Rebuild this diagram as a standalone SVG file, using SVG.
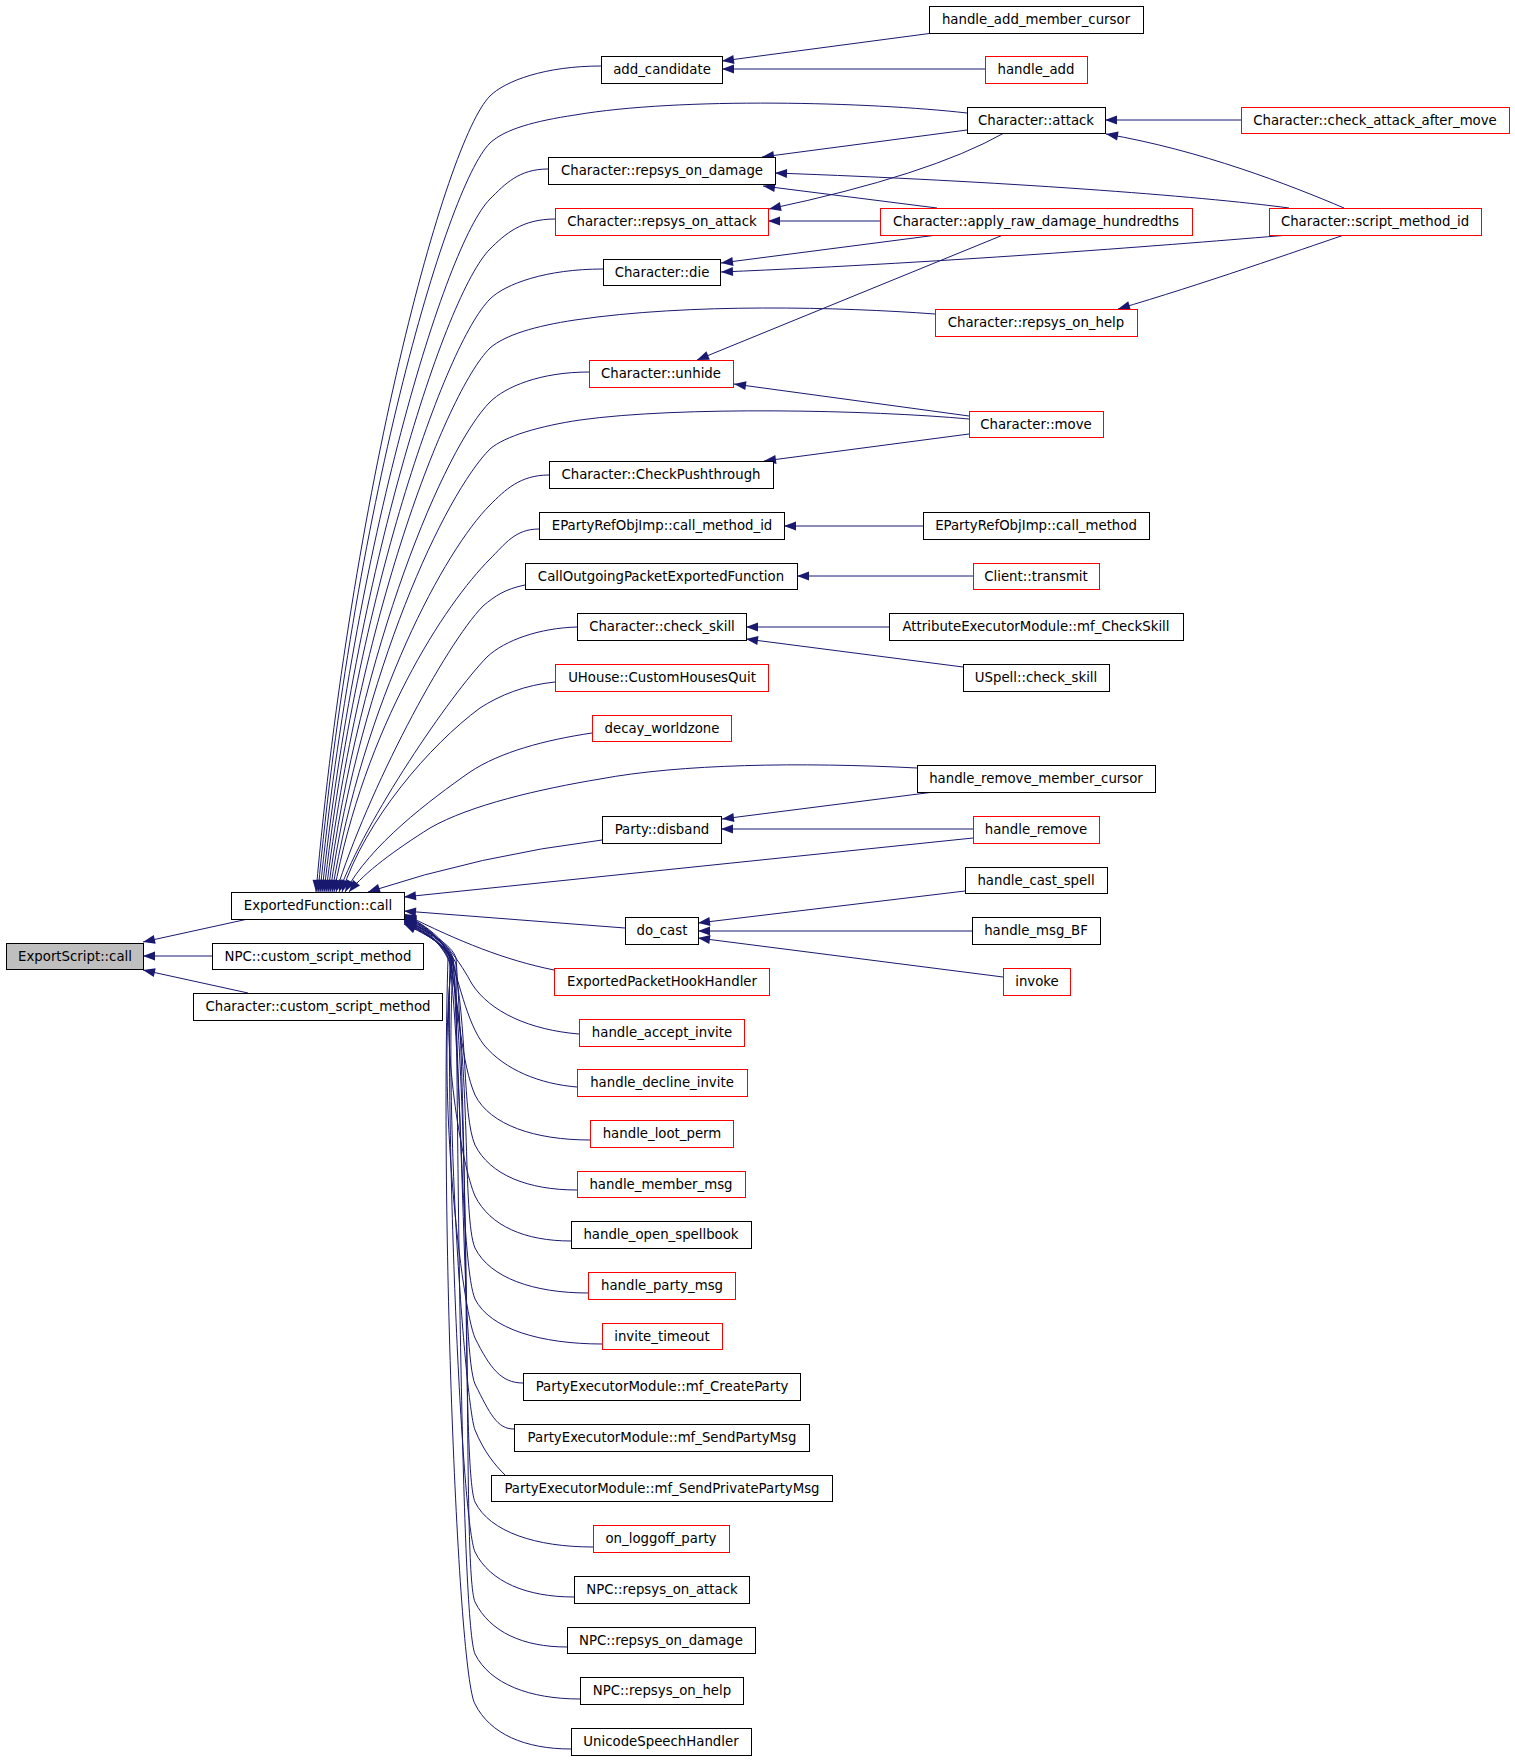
<svg xmlns="http://www.w3.org/2000/svg" width="1515" height="1760" viewBox="0 0 1515 1760">
<style>
.n rect{fill:#fff;stroke:#000;stroke-width:1}
.n.r rect{stroke:#f00}
.n.g rect{fill:#bfbfbf}
.n text{font-family:"DejaVu Sans",sans-serif;font-size:13.3px;text-anchor:middle;fill:#000}
#edges path{fill:none;stroke:#191970;stroke-width:1;marker-end:url(#a)}
</style>
<defs>
<marker id="a" markerUnits="userSpaceOnUse" markerWidth="13" markerHeight="10" viewBox="0 0 13 10" refX="12.5" refY="5" orient="auto">
<path d="M0.5,0.5 L12.5,5 L0.5,9.5 z" fill="#191970"/>
</marker>
</defs>
<rect width="1515" height="1760" fill="#fff"/>
<g id="edges">
<path d="M248,919 L143,942"/>
<path d="M212,956 L143,956"/>
<path d="M248,993 L143,970"/>
<path d="M601,66 C545,66 505,81 490,96 C445,141 351,494 316,892"/>
<path d="M967,113 C870,102 680,97 575,115 C535,121 505,129 490,143 C445,188 352,518 318,892"/>
<path d="M548,169 C519,169 505,184 490,199 C445,244 354,546 320,892"/>
<path d="M555,219 C522,219 505,234 490,249 C445,294 356,571 322,892"/>
<path d="M603,269 C546,269 505,284 490,299 C445,344 357,596 324,892"/>
<path d="M935,314 C840,307 690,303 575,320 C535,326 505,335 490,348 C445,393 359,620 326,892"/>
<path d="M589,372 C540,372 505,387 490,402 C445,447 360,647 328,892"/>
<path d="M969,419 C870,410 680,406 580,420 C540,426 505,436 490,449 C445,494 362,671 330,892"/>
<path d="M549,475 C520,475 505,490 490,505 C445,550 364,699 332,892"/>
<path d="M539,529 C515,529 505,544 490,559 C445,604 365,726 334,892"/>
<path d="M525,585 C505,589 495,596 483,606 C445,645 368,790 336,892"/>
<path d="M577,627 C540,628 505,640 487,657 C450,695 365,820 339,892"/>
<path d="M555,682 C525,685 500,695 480,708 C430,745 365,820 342,892"/>
<path d="M592,733 C545,740 500,752 470,772 C430,800 370,845 345,892"/>
<path d="M917,768 C800,762 680,764 600,779 C540,789 470,805 430,828 C395,850 365,872 349,892"/>
<path d="M602,840 Q480,855 368,892"/>
<path d="M973,838 L404,897"/>
<path d="M625,928 L404,911"/>
<path d="M554,970 C505,960 460,942 404,914"/>
<path d="M579,1034 C530,1030 490,1012 472,984 C462,966 440,928 404,916"/>
<path d="M577,1087 C540,1084 505,1070 484,1045 C466,1022 458,975 450,958 C446,945 430,929 404,917"/>
<path d="M590,1140 C535,1140 490,1125 475,1095 C462,1065 458,1007 450,958 C446,945 430,927 404,915"/>
<path d="M577,1190 C528,1190 490,1175 475,1145 C462,1115 468,1025 453,960 C449,947 430,928 404,916"/>
<path d="M571,1241 C525,1241 490,1226 475,1196 C462,1166 440,1043 452,962 C450,949 430,929 404,917"/>
<path d="M588,1293 C534,1293 490,1278 475,1248 C462,1218 472,1061 450,964 C446,951 430,930 404,918"/>
<path d="M602,1344 C541,1344 490,1329 475,1299 C462,1269 460,1079 453,958 C449,945 430,931 404,919"/>
<path d="M523,1383 C501,1383 490,1368 475,1338 C462,1308 436,1092 452,960 C450,947 430,932 404,920"/>
<path d="M514,1429 C497,1429 490,1414 475,1384 C462,1354 465,1108 450,962 C446,949 430,933 404,921"/>
<path d="M505,1475 C495,1465 484,1452 475,1430 C466,1408 444,1125 453,964 C450,951 430,934 404,922"/>
<path d="M593,1547 C536,1547 490,1532 475,1502 C462,1472 470,1150 456,958 C452,945 430,932 404,920"/>
<path d="M574,1597 C527,1597 490,1582 475,1552 C462,1522 446,1167 450,960 C447,947 430,933 404,921"/>
<path d="M567,1647 C523,1647 490,1632 475,1602 C462,1572 474,1185 453,962 C449,949 430,934 404,922"/>
<path d="M580,1699 C530,1699 490,1684 475,1654 C462,1624 458,1203 456,964 C452,951 430,935 404,923"/>
<path d="M571,1749 C525,1749 490,1734 475,1704 C458,1674 440,1220 448,958 C445,945 430,936 404,924"/>
<path d="M933,33 L722,61"/>
<path d="M985,69 L722,69"/>
<path d="M967,130 L762,157"/>
<path d="M1004,133 Q930,175 769,209"/>
<path d="M1241,120 L1105,120"/>
<path d="M1344,208 C1290,185 1200,150 1106,134"/>
<path d="M1289,208 C1200,196 1000,181 775,173"/>
<path d="M937,208 L763,186"/>
<path d="M880,221 L768,221"/>
<path d="M937,235 L721,263"/>
<path d="M1289,235 C1180,244 960,262 721,272"/>
<path d="M1344,235 C1300,250 1200,285 1118,309"/>
<path d="M1003,235 L697,360"/>
<path d="M969,416 L734,384"/>
<path d="M969,434 L764,461"/>
<path d="M923,526 L784,526"/>
<path d="M973,576 L797,576"/>
<path d="M889,627 L746,627"/>
<path d="M963,667 L746,639"/>
<path d="M934,792 L722,819"/>
<path d="M973,829 L721,829"/>
<path d="M965,891 L698,923"/>
<path d="M972,931 L698,931"/>
<path d="M1003,977 L698,938"/>
</g>
<g id="n0" class="n g"><rect x="6.5" y="943.5" width="137" height="26"/><text x="75" y="961">ExportScript::call</text></g>
<g id="n1" class="n"><rect x="231.5" y="892.5" width="173" height="27"/><text x="318" y="910">ExportedFunction::call</text></g>
<g id="n2" class="n"><rect x="212.5" y="943.5" width="211" height="26"/><text x="318" y="961">NPC::custom_script_method</text></g>
<g id="n3" class="n"><rect x="193.5" y="993.5" width="249" height="27"/><text x="318" y="1011">Character::custom_script_method</text></g>
<g id="n4" class="n"><rect x="601.5" y="56.5" width="121" height="27"/><text x="662" y="74">add_candidate</text></g>
<g id="n5" class="n"><rect x="929.5" y="6.5" width="214" height="27"/><text x="1036" y="24">handle_add_member_cursor</text></g>
<g id="n6" class="n r"><rect x="985.5" y="56.5" width="102" height="27"/><text x="1036" y="74">handle_add</text></g>
<g id="n7" class="n"><rect x="967.5" y="107.5" width="138" height="26"/><text x="1036" y="125">Character::attack</text></g>
<g id="n8" class="n r"><rect x="1241.5" y="107.5" width="268" height="26"/><text x="1375" y="125">Character::check_attack_after_move</text></g>
<g id="n9" class="n"><rect x="548.5" y="157.5" width="227" height="27"/><text x="662" y="175">Character::repsys_on_damage</text></g>
<g id="n10" class="n r"><rect x="555.5" y="208.5" width="213" height="27"/><text x="662" y="226">Character::repsys_on_attack</text></g>
<g id="n11" class="n r"><rect x="880.5" y="208.5" width="312" height="27"/><text x="1036" y="226">Character::apply_raw_damage_hundredths</text></g>
<g id="n12" class="n r"><rect x="1269.5" y="208.5" width="212" height="27"/><text x="1375" y="226">Character::script_method_id</text></g>
<g id="n13" class="n"><rect x="603.5" y="259.5" width="117" height="26"/><text x="662" y="277">Character::die</text></g>
<g id="n14" class="n r"><rect x="935.5" y="309.5" width="202" height="27"/><text x="1036" y="327">Character::repsys_on_help</text></g>
<g id="n15" class="n r"><rect x="589.5" y="360.5" width="144" height="27"/><text x="661" y="378">Character::unhide</text></g>
<g id="n16" class="n r"><rect x="969.5" y="411.5" width="134" height="26"/><text x="1036" y="429">Character::move</text></g>
<g id="n17" class="n"><rect x="549.5" y="461.5" width="224" height="27"/><text x="661" y="479">Character::CheckPushthrough</text></g>
<g id="n18" class="n"><rect x="539.5" y="512.5" width="245" height="27"/><text x="662" y="530">EPartyRefObjImp::call_method_id</text></g>
<g id="n19" class="n"><rect x="923.5" y="512.5" width="226" height="27"/><text x="1036" y="530">EPartyRefObjImp::call_method</text></g>
<g id="n20" class="n"><rect x="525.5" y="563.5" width="272" height="26"/><text x="661" y="581">CallOutgoingPacketExportedFunction</text></g>
<g id="n21" class="n r"><rect x="973.5" y="563.5" width="126" height="26"/><text x="1036" y="581">Client::transmit</text></g>
<g id="n22" class="n"><rect x="577.5" y="613.5" width="169" height="27"/><text x="662" y="631">Character::check_skill</text></g>
<g id="n23" class="n"><rect x="889.5" y="613.5" width="294" height="27"/><text x="1036" y="631">AttributeExecutorModule::mf_CheckSkill</text></g>
<g id="n24" class="n r"><rect x="555.5" y="664.5" width="213" height="27"/><text x="662" y="682">UHouse::CustomHousesQuit</text></g>
<g id="n25" class="n"><rect x="963.5" y="664.5" width="146" height="27"/><text x="1036" y="682">USpell::check_skill</text></g>
<g id="n26" class="n r"><rect x="592.5" y="715.5" width="139" height="26"/><text x="662" y="733">decay_worldzone</text></g>
<g id="n27" class="n"><rect x="917.5" y="765.5" width="238" height="27"/><text x="1036" y="783">handle_remove_member_cursor</text></g>
<g id="n28" class="n"><rect x="602.5" y="816.5" width="119" height="27"/><text x="662" y="834">Party::disband</text></g>
<g id="n29" class="n r"><rect x="973.5" y="816.5" width="126" height="27"/><text x="1036" y="834">handle_remove</text></g>
<g id="n30" class="n"><rect x="965.5" y="867.5" width="142" height="26"/><text x="1036" y="885">handle_cast_spell</text></g>
<g id="n31" class="n"><rect x="625.5" y="917.5" width="73" height="27"/><text x="662" y="935">do_cast</text></g>
<g id="n32" class="n"><rect x="972.5" y="917.5" width="128" height="27"/><text x="1036" y="935">handle_msg_BF</text></g>
<g id="n33" class="n r"><rect x="554.5" y="968.5" width="215" height="27"/><text x="662" y="986">ExportedPacketHookHandler</text></g>
<g id="n34" class="n r"><rect x="1003.5" y="968.5" width="67" height="27"/><text x="1037" y="986">invoke</text></g>
<g id="n35" class="n r"><rect x="579.5" y="1019.5" width="165" height="27"/><text x="662" y="1037">handle_accept_invite</text></g>
<g id="n36" class="n r"><rect x="577.5" y="1069.5" width="170" height="27"/><text x="662" y="1087">handle_decline_invite</text></g>
<g id="n37" class="n r"><rect x="590.5" y="1120.5" width="143" height="27"/><text x="662" y="1138">handle_loot_perm</text></g>
<g id="n38" class="n r"><rect x="577.5" y="1171.5" width="168" height="26"/><text x="661" y="1189">handle_member_msg</text></g>
<g id="n39" class="n"><rect x="571.5" y="1221.5" width="180" height="27"/><text x="661" y="1239">handle_open_spellbook</text></g>
<g id="n40" class="n r"><rect x="588.5" y="1272.5" width="147" height="27"/><text x="662" y="1290">handle_party_msg</text></g>
<g id="n41" class="n r"><rect x="602.5" y="1323.5" width="120" height="26"/><text x="662" y="1341">invite_timeout</text></g>
<g id="n42" class="n"><rect x="523.5" y="1373.5" width="277" height="27"/><text x="662" y="1391">PartyExecutorModule::mf_CreateParty</text></g>
<g id="n43" class="n"><rect x="514.5" y="1424.5" width="295" height="27"/><text x="662" y="1442">PartyExecutorModule::mf_SendPartyMsg</text></g>
<g id="n44" class="n"><rect x="491.5" y="1475.5" width="341" height="26"/><text x="662" y="1493">PartyExecutorModule::mf_SendPrivatePartyMsg</text></g>
<g id="n45" class="n r"><rect x="593.5" y="1525.5" width="136" height="27"/><text x="661" y="1543">on_loggoff_party</text></g>
<g id="n46" class="n"><rect x="574.5" y="1576.5" width="175" height="27"/><text x="662" y="1594">NPC::repsys_on_attack</text></g>
<g id="n47" class="n"><rect x="567.5" y="1627.5" width="188" height="26"/><text x="661" y="1645">NPC::repsys_on_damage</text></g>
<g id="n48" class="n"><rect x="580.5" y="1677.5" width="163" height="27"/><text x="662" y="1695">NPC::repsys_on_help</text></g>
<g id="n49" class="n"><rect x="571.5" y="1728.5" width="180" height="27"/><text x="661" y="1746">UnicodeSpeechHandler</text></g>
</svg>
